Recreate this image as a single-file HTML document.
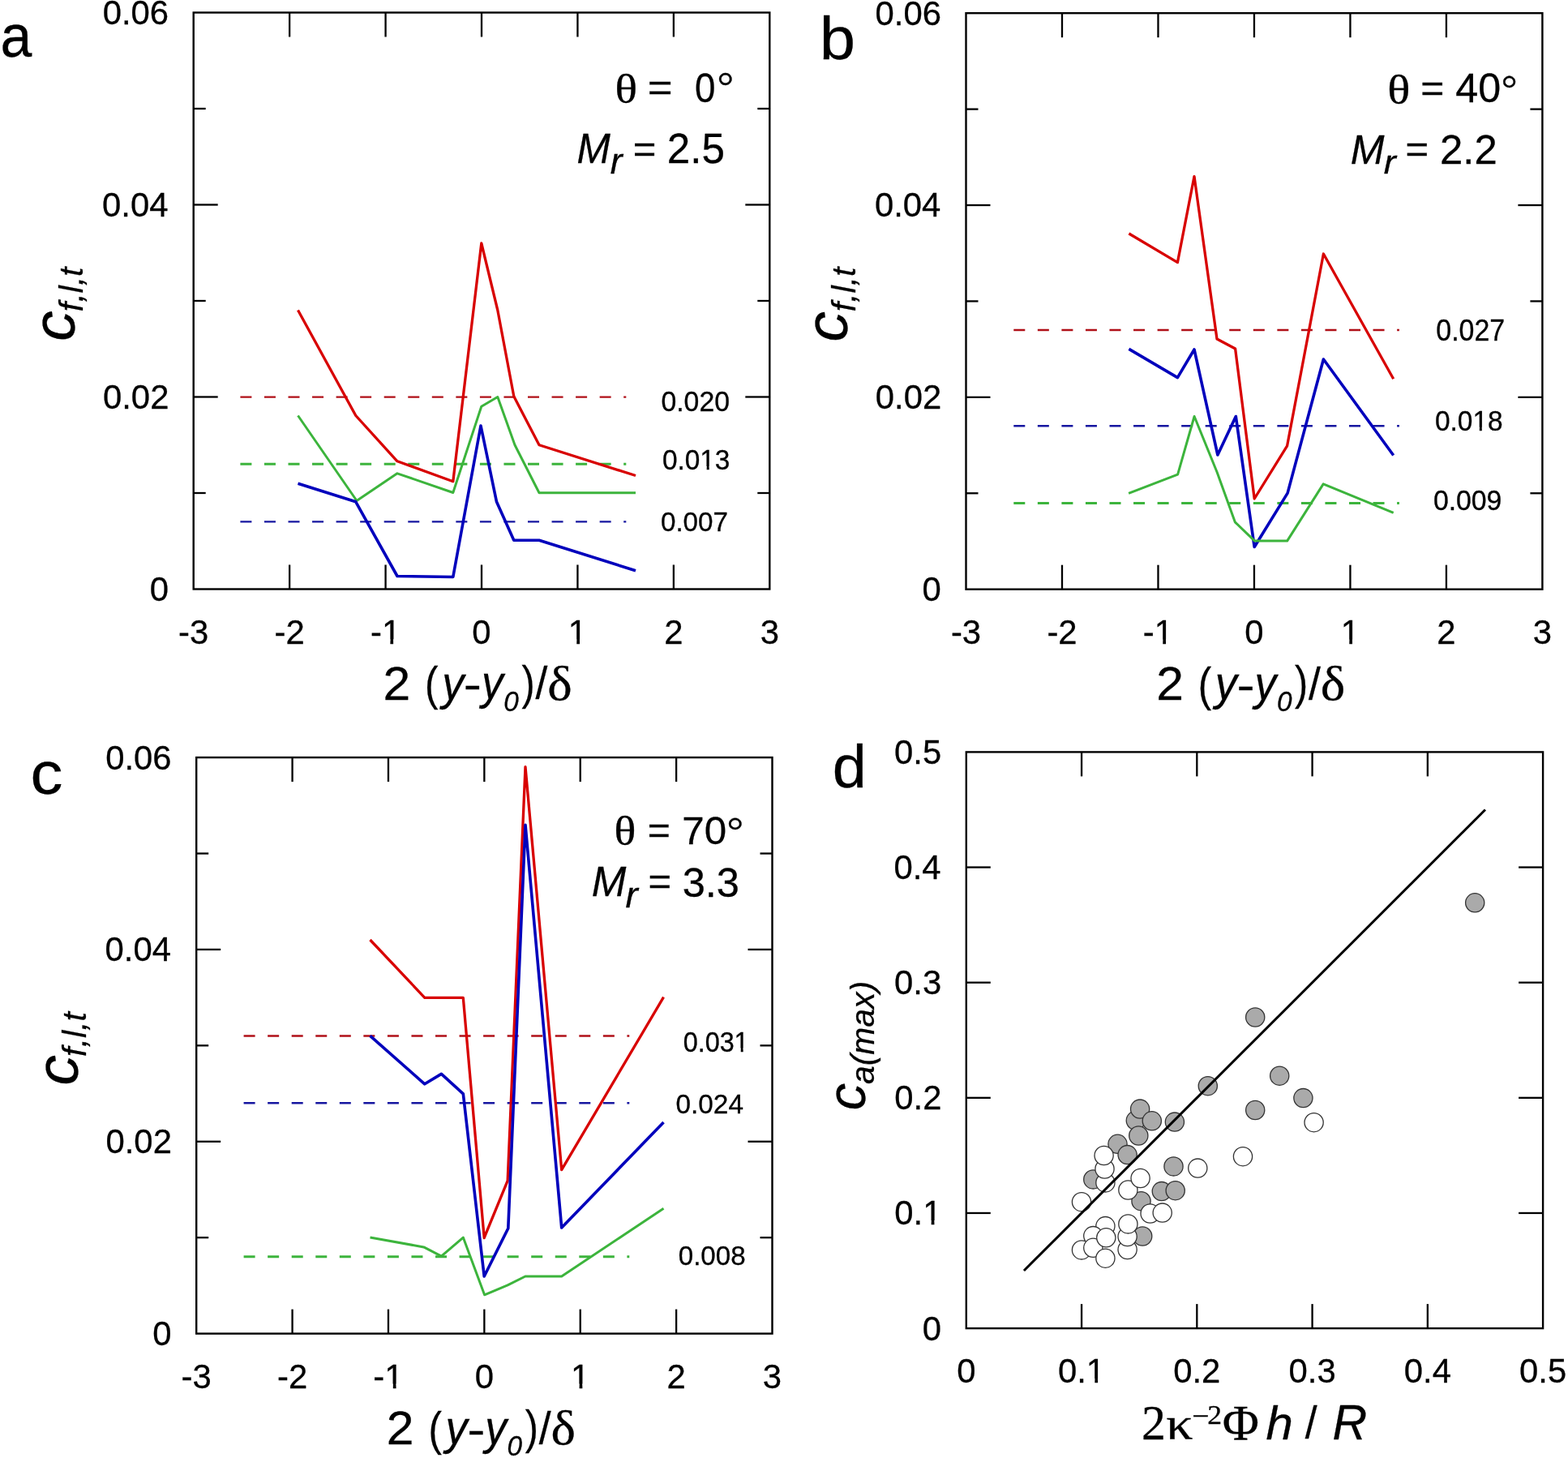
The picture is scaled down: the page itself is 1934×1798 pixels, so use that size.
<!DOCTYPE html>
<html><head><meta charset="utf-8"><title>Figure</title>
<style>
html,body{margin:0;padding:0;background:#fff;}
svg{display:block;}
.sa{font-family:"Liberation Sans",Arial,sans-serif;}
.ser{font-family:"Liberation Serif","Times New Roman",serif;}
text{fill:#000;stroke:#000;stroke-width:0.3px;}
</style></head>
<body>
<svg width="1934" height="1798" viewBox="0 0 1934 1798">
<rect width="1934" height="1798" fill="#fff"/>
<defs><clipPath id="k0"><path clip-rule="evenodd" d="M-3000,-3000H3000V3000H-3000ZM15.13,-5.39H24.55V1.64H15.13ZM28.26,-5.39H37.14V1.64H28.26Z"/></clipPath><clipPath id="k1"><path clip-rule="evenodd" d="M-3000,-3000H3000V3000H-3000ZM1.15,-5.39H10.56V1.64H1.15ZM14.27,-5.39H23.15V1.64H14.27Z"/></clipPath><clipPath id="k2"><path clip-rule="evenodd" d="M-3000,-3000H3000V3000H-3000ZM15.13,-5.39H24.55V1.64H15.13ZM28.26,-5.39H37.14V1.64H28.26Z"/></clipPath><clipPath id="k3"><path clip-rule="evenodd" d="M-3000,-3000H3000V3000H-3000ZM1.15,-5.39H10.56V1.64H1.15ZM14.27,-5.39H23.15V1.64H14.27Z"/></clipPath><clipPath id="k4"><path clip-rule="evenodd" d="M-3000,-3000H3000V3000H-3000ZM15.13,-5.39H24.55V1.64H15.13ZM28.26,-5.39H37.14V1.64H28.26Z"/></clipPath><clipPath id="k5"><path clip-rule="evenodd" d="M-3000,-3000H3000V3000H-3000ZM1.15,-5.39H10.56V1.64H1.15ZM14.27,-5.39H23.15V1.64H14.27Z"/></clipPath><clipPath id="k6"><path clip-rule="evenodd" d="M-3000,-3000H3000V3000H-3000ZM48.05,-4.35H55.65V1.32H48.05ZM58.65,-4.35H65.81V1.32H58.65Z"/></clipPath><clipPath id="k7"><path clip-rule="evenodd" d="M-3000,-3000H3000V3000H-3000ZM46.65,-4.23H54.03V1.29H46.65ZM56.93,-4.23H63.89V1.29H56.93Z"/></clipPath><clipPath id="k8"><path clip-rule="evenodd" d="M-3000,-3000H3000V3000H-3000ZM66.63,-4.34H74.20V1.32H66.63ZM77.18,-4.34H84.32V1.32H77.18Z"/></clipPath><clipPath id="k9"><path clip-rule="evenodd" d="M-3000,-3000H3000V3000H-3000ZM36.18,-5.39H45.59V1.64H36.18ZM49.30,-5.39H58.18V1.64H49.30Z"/></clipPath><clipPath id="k10"><path clip-rule="evenodd" d="M-3000,-3000H3000V3000H-3000ZM36.18,-5.39H45.59V1.64H36.18ZM49.30,-5.39H58.18V1.64H49.30Z"/></clipPath></defs>
<line x1="296.40" y1="489.60" x2="772.30" y2="489.60" stroke="#b01018" stroke-width="2.4" stroke-dasharray="14 15.55"/>
<line x1="296.40" y1="572.30" x2="772.30" y2="572.30" stroke="#3cb43c" stroke-width="3.0" stroke-dasharray="14 15.55"/>
<line x1="296.40" y1="643.40" x2="772.30" y2="643.40" stroke="#1616a0" stroke-width="2.4" stroke-dasharray="14 15.55"/>
<line x1="1250.30" y1="407.00" x2="1725.90" y2="407.00" stroke="#b01018" stroke-width="2.4" stroke-dasharray="14 15.55"/>
<line x1="1250.30" y1="525.30" x2="1725.90" y2="525.30" stroke="#1616a0" stroke-width="2.4" stroke-dasharray="14 15.55"/>
<line x1="1250.30" y1="620.60" x2="1725.90" y2="620.60" stroke="#3cb43c" stroke-width="3.0" stroke-dasharray="14 15.55"/>
<line x1="300.60" y1="1277.50" x2="776.30" y2="1277.50" stroke="#b01018" stroke-width="2.4" stroke-dasharray="14 15.55"/>
<line x1="300.60" y1="1360.20" x2="776.30" y2="1360.20" stroke="#1616a0" stroke-width="2.4" stroke-dasharray="14 15.55"/>
<line x1="300.60" y1="1549.70" x2="776.30" y2="1549.70" stroke="#3cb43c" stroke-width="3.0" stroke-dasharray="14 15.55"/>
<polyline points="367.5,382.5 438.8,512.5 490.0,568.8 558.8,593.8 593.8,300.0 613.8,382.5 633.8,488.8 665.0,548.8 784.0,586.5" fill="none" stroke="#d80000" stroke-width="3.3" stroke-linejoin="round" stroke-linecap="butt"/>
<polyline points="367.5,512.5 440.0,617.5 490.0,583.8 558.8,607.5 593.8,501.2 613.8,489.5 635.0,548.8 665.0,607.8 784.0,607.8" fill="none" stroke="#3cb43c" stroke-width="3.0" stroke-linejoin="round" stroke-linecap="butt"/>
<polyline points="367.5,596.2 438.8,618.8 490.0,710.5 558.8,711.5 593.0,525.0 612.5,618.8 633.8,666.2 665.0,666.2 784.0,703.8" fill="none" stroke="#0000bc" stroke-width="3.6" stroke-linejoin="round" stroke-linecap="butt"/>
<polyline points="1392.4,288.0 1452.4,323.6 1473.0,217.6 1501.0,418.0 1523.6,430.0 1547.2,615.0 1587.6,549.8 1632.4,313.0 1718.7,467.3" fill="none" stroke="#d80000" stroke-width="3.3" stroke-linejoin="round" stroke-linecap="butt"/>
<polyline points="1392.4,430.4 1452.4,465.6 1473.0,431.0 1501.9,561.0 1524.3,513.5 1547.2,674.5 1588.1,608.1 1632.4,443.0 1718.7,561.5" fill="none" stroke="#0000bc" stroke-width="3.6" stroke-linejoin="round" stroke-linecap="butt"/>
<polyline points="1392.1,608.4 1452.6,585.2 1473.1,513.5 1501.0,582.0 1523.3,643.8 1547.5,667.1 1587.6,667.1 1632.2,596.9 1718.7,632.3" fill="none" stroke="#3cb43c" stroke-width="3.0" stroke-linejoin="round" stroke-linecap="butt"/>
<polyline points="456.5,1159.0 523.8,1230.3 571.3,1230.3 597.2,1526.5 626.1,1456.2 648.0,945.6 692.7,1442.7 818.5,1229.7" fill="none" stroke="#d80000" stroke-width="3.3" stroke-linejoin="round" stroke-linecap="butt"/>
<polyline points="456.5,1277.3 523.8,1336.8 544.4,1324.4 571.3,1348.8 597.2,1574.0 626.8,1514.7 648.0,1017.2 692.7,1514.0 818.5,1384.0" fill="none" stroke="#0000bc" stroke-width="3.6" stroke-linejoin="round" stroke-linecap="butt"/>
<polyline points="456.5,1526.1 522.7,1537.9 544.4,1549.2 571.3,1526.1 597.6,1596.8 626.1,1584.8 647.9,1574.0 692.7,1574.0 818.5,1490.3" fill="none" stroke="#3cb43c" stroke-width="3.0" stroke-linejoin="round" stroke-linecap="butt"/>
<rect x="238.70" y="15.50" width="710.60" height="711.00" fill="none" stroke="#000" stroke-width="2.4"/>
<line x1="357.13" y1="726.50" x2="357.13" y2="696.50" stroke="#000" stroke-width="2.3"/>
<line x1="357.13" y1="15.50" x2="357.13" y2="45.50" stroke="#000" stroke-width="2.3"/>
<line x1="475.57" y1="726.50" x2="475.57" y2="696.50" stroke="#000" stroke-width="2.3"/>
<line x1="475.57" y1="15.50" x2="475.57" y2="45.50" stroke="#000" stroke-width="2.3"/>
<line x1="594.00" y1="726.50" x2="594.00" y2="696.50" stroke="#000" stroke-width="2.3"/>
<line x1="594.00" y1="15.50" x2="594.00" y2="45.50" stroke="#000" stroke-width="2.3"/>
<line x1="712.43" y1="726.50" x2="712.43" y2="696.50" stroke="#000" stroke-width="2.3"/>
<line x1="712.43" y1="15.50" x2="712.43" y2="45.50" stroke="#000" stroke-width="2.3"/>
<line x1="830.87" y1="726.50" x2="830.87" y2="696.50" stroke="#000" stroke-width="2.3"/>
<line x1="830.87" y1="15.50" x2="830.87" y2="45.50" stroke="#000" stroke-width="2.3"/>
<line x1="238.70" y1="489.50" x2="268.70" y2="489.50" stroke="#000" stroke-width="2.3"/>
<line x1="949.30" y1="489.50" x2="919.30" y2="489.50" stroke="#000" stroke-width="2.3"/>
<line x1="238.70" y1="252.50" x2="268.70" y2="252.50" stroke="#000" stroke-width="2.3"/>
<line x1="949.30" y1="252.50" x2="919.30" y2="252.50" stroke="#000" stroke-width="2.3"/>
<line x1="238.70" y1="608.00" x2="253.70" y2="608.00" stroke="#000" stroke-width="2.3"/>
<line x1="949.30" y1="608.00" x2="934.30" y2="608.00" stroke="#000" stroke-width="2.3"/>
<line x1="238.70" y1="371.00" x2="253.70" y2="371.00" stroke="#000" stroke-width="2.3"/>
<line x1="949.30" y1="371.00" x2="934.30" y2="371.00" stroke="#000" stroke-width="2.3"/>
<line x1="238.70" y1="134.00" x2="253.70" y2="134.00" stroke="#000" stroke-width="2.3"/>
<line x1="949.30" y1="134.00" x2="934.30" y2="134.00" stroke="#000" stroke-width="2.3"/>
<text class="sa" transform="translate(220.10,793.80) scale(0.996,1.020)" font-size="42.00">-3</text>
<text class="sa" transform="translate(338.54,793.80) scale(0.996,1.020)" font-size="42.00">-2</text>
<text class="sa" transform="translate(456.97,793.80) scale(0.996,1.020)" font-size="42.00" clip-path="url(#k0)">-1</text>
<text class="sa" transform="translate(582.37,793.80) scale(0.996,1.020)" font-size="42.00">0</text>
<text class="sa" transform="translate(700.80,793.80) scale(0.996,1.020)" font-size="42.00" clip-path="url(#k1)">1</text>
<text class="sa" transform="translate(819.23,793.80) scale(0.996,1.020)" font-size="42.00">2</text>
<text class="sa" transform="translate(937.67,793.80) scale(0.996,1.020)" font-size="42.00">3</text>
<text class="sa" transform="translate(184.67,740.95) scale(0.996,1.020)" font-size="42.00">0</text>
<text class="sa" transform="translate(126.99,503.95) scale(0.996,1.020)" font-size="42.00">0.02</text>
<text class="sa" transform="translate(126.11,266.95) scale(0.996,1.020)" font-size="42.00">0.04</text>
<text class="sa" transform="translate(126.72,29.95) scale(0.996,1.020)" font-size="42.00">0.06</text>
<rect x="1191.50" y="16.20" width="710.90" height="710.50" fill="none" stroke="#000" stroke-width="2.4"/>
<line x1="1309.98" y1="726.70" x2="1309.98" y2="696.70" stroke="#000" stroke-width="2.3"/>
<line x1="1309.98" y1="16.20" x2="1309.98" y2="46.20" stroke="#000" stroke-width="2.3"/>
<line x1="1428.47" y1="726.70" x2="1428.47" y2="696.70" stroke="#000" stroke-width="2.3"/>
<line x1="1428.47" y1="16.20" x2="1428.47" y2="46.20" stroke="#000" stroke-width="2.3"/>
<line x1="1546.95" y1="726.70" x2="1546.95" y2="696.70" stroke="#000" stroke-width="2.3"/>
<line x1="1546.95" y1="16.20" x2="1546.95" y2="46.20" stroke="#000" stroke-width="2.3"/>
<line x1="1665.43" y1="726.70" x2="1665.43" y2="696.70" stroke="#000" stroke-width="2.3"/>
<line x1="1665.43" y1="16.20" x2="1665.43" y2="46.20" stroke="#000" stroke-width="2.3"/>
<line x1="1783.92" y1="726.70" x2="1783.92" y2="696.70" stroke="#000" stroke-width="2.3"/>
<line x1="1783.92" y1="16.20" x2="1783.92" y2="46.20" stroke="#000" stroke-width="2.3"/>
<line x1="1191.50" y1="489.87" x2="1221.50" y2="489.87" stroke="#000" stroke-width="2.3"/>
<line x1="1902.40" y1="489.87" x2="1872.40" y2="489.87" stroke="#000" stroke-width="2.3"/>
<line x1="1191.50" y1="253.03" x2="1221.50" y2="253.03" stroke="#000" stroke-width="2.3"/>
<line x1="1902.40" y1="253.03" x2="1872.40" y2="253.03" stroke="#000" stroke-width="2.3"/>
<line x1="1191.50" y1="608.28" x2="1206.50" y2="608.28" stroke="#000" stroke-width="2.3"/>
<line x1="1902.40" y1="608.28" x2="1887.40" y2="608.28" stroke="#000" stroke-width="2.3"/>
<line x1="1191.50" y1="371.45" x2="1206.50" y2="371.45" stroke="#000" stroke-width="2.3"/>
<line x1="1902.40" y1="371.45" x2="1887.40" y2="371.45" stroke="#000" stroke-width="2.3"/>
<line x1="1191.50" y1="134.62" x2="1206.50" y2="134.62" stroke="#000" stroke-width="2.3"/>
<line x1="1902.40" y1="134.62" x2="1887.40" y2="134.62" stroke="#000" stroke-width="2.3"/>
<text class="sa" transform="translate(1172.90,794.00) scale(0.996,1.020)" font-size="42.00">-3</text>
<text class="sa" transform="translate(1291.39,794.00) scale(0.996,1.020)" font-size="42.00">-2</text>
<text class="sa" transform="translate(1409.87,794.00) scale(0.996,1.020)" font-size="42.00" clip-path="url(#k2)">-1</text>
<text class="sa" transform="translate(1535.32,794.00) scale(0.996,1.020)" font-size="42.00">0</text>
<text class="sa" transform="translate(1653.80,794.00) scale(0.996,1.020)" font-size="42.00" clip-path="url(#k3)">1</text>
<text class="sa" transform="translate(1772.28,794.00) scale(0.996,1.020)" font-size="42.00">2</text>
<text class="sa" transform="translate(1890.77,794.00) scale(0.996,1.020)" font-size="42.00">3</text>
<text class="sa" transform="translate(1137.47,741.15) scale(0.996,1.020)" font-size="42.00">0</text>
<text class="sa" transform="translate(1079.79,504.31) scale(0.996,1.020)" font-size="42.00">0.02</text>
<text class="sa" transform="translate(1078.91,267.48) scale(0.996,1.020)" font-size="42.00">0.04</text>
<text class="sa" transform="translate(1079.52,30.65) scale(0.996,1.020)" font-size="42.00">0.06</text>
<rect x="242.20" y="934.10" width="710.30" height="710.50" fill="none" stroke="#000" stroke-width="2.4"/>
<line x1="360.58" y1="1644.60" x2="360.58" y2="1614.60" stroke="#000" stroke-width="2.3"/>
<line x1="360.58" y1="934.10" x2="360.58" y2="964.10" stroke="#000" stroke-width="2.3"/>
<line x1="478.97" y1="1644.60" x2="478.97" y2="1614.60" stroke="#000" stroke-width="2.3"/>
<line x1="478.97" y1="934.10" x2="478.97" y2="964.10" stroke="#000" stroke-width="2.3"/>
<line x1="597.35" y1="1644.60" x2="597.35" y2="1614.60" stroke="#000" stroke-width="2.3"/>
<line x1="597.35" y1="934.10" x2="597.35" y2="964.10" stroke="#000" stroke-width="2.3"/>
<line x1="715.73" y1="1644.60" x2="715.73" y2="1614.60" stroke="#000" stroke-width="2.3"/>
<line x1="715.73" y1="934.10" x2="715.73" y2="964.10" stroke="#000" stroke-width="2.3"/>
<line x1="834.12" y1="1644.60" x2="834.12" y2="1614.60" stroke="#000" stroke-width="2.3"/>
<line x1="834.12" y1="934.10" x2="834.12" y2="964.10" stroke="#000" stroke-width="2.3"/>
<line x1="242.20" y1="1407.77" x2="272.20" y2="1407.77" stroke="#000" stroke-width="2.3"/>
<line x1="952.50" y1="1407.77" x2="922.50" y2="1407.77" stroke="#000" stroke-width="2.3"/>
<line x1="242.20" y1="1170.93" x2="272.20" y2="1170.93" stroke="#000" stroke-width="2.3"/>
<line x1="952.50" y1="1170.93" x2="922.50" y2="1170.93" stroke="#000" stroke-width="2.3"/>
<line x1="242.20" y1="1526.18" x2="257.20" y2="1526.18" stroke="#000" stroke-width="2.3"/>
<line x1="952.50" y1="1526.18" x2="937.50" y2="1526.18" stroke="#000" stroke-width="2.3"/>
<line x1="242.20" y1="1289.35" x2="257.20" y2="1289.35" stroke="#000" stroke-width="2.3"/>
<line x1="952.50" y1="1289.35" x2="937.50" y2="1289.35" stroke="#000" stroke-width="2.3"/>
<line x1="242.20" y1="1052.52" x2="257.20" y2="1052.52" stroke="#000" stroke-width="2.3"/>
<line x1="952.50" y1="1052.52" x2="937.50" y2="1052.52" stroke="#000" stroke-width="2.3"/>
<text class="sa" transform="translate(223.60,1711.90) scale(0.996,1.020)" font-size="42.00">-3</text>
<text class="sa" transform="translate(341.99,1711.90) scale(0.996,1.020)" font-size="42.00">-2</text>
<text class="sa" transform="translate(460.37,1711.90) scale(0.996,1.020)" font-size="42.00" clip-path="url(#k4)">-1</text>
<text class="sa" transform="translate(585.72,1711.90) scale(0.996,1.020)" font-size="42.00">0</text>
<text class="sa" transform="translate(704.10,1711.90) scale(0.996,1.020)" font-size="42.00" clip-path="url(#k5)">1</text>
<text class="sa" transform="translate(822.48,1711.90) scale(0.996,1.020)" font-size="42.00">2</text>
<text class="sa" transform="translate(940.87,1711.90) scale(0.996,1.020)" font-size="42.00">3</text>
<text class="sa" transform="translate(188.17,1659.05) scale(0.996,1.020)" font-size="42.00">0</text>
<text class="sa" transform="translate(130.49,1422.21) scale(0.996,1.020)" font-size="42.00">0.02</text>
<text class="sa" transform="translate(129.61,1185.38) scale(0.996,1.020)" font-size="42.00">0.04</text>
<text class="sa" transform="translate(130.22,948.55) scale(0.996,1.020)" font-size="42.00">0.06</text>
<text class="sa" transform="translate(815.47,506.87) scale(1.000,1.030)" font-size="33.76">0.020</text>
<text class="sa" transform="translate(816.89,579.46) scale(0.985,1.043)" font-size="33.90" clip-path="url(#k6)">0.013</text>
<text class="sa" transform="translate(814.90,654.67) scale(1.006,1.009)" font-size="33.05">0.007</text>
<text class="sa" transform="translate(1771.27,420.06) scale(0.984,1.051)" font-size="34.46">0.027</text>
<text class="sa" transform="translate(1769.89,531.07) scale(1.017,1.040)" font-size="32.91" clip-path="url(#k7)">0.018</text>
<text class="sa" transform="translate(1767.88,629.48) scale(1.026,1.040)" font-size="32.91">0.009</text>
<text class="sa" transform="translate(842.74,1296.89) scale(0.957,1.030)" font-size="33.76" clip-path="url(#k8)">0.031</text>
<text class="sa" transform="translate(833.49,1373.07) scale(1.005,1.022)" font-size="33.19">0.024</text>
<text class="sa" transform="translate(836.71,1560.08) scale(1.025,1.032)" font-size="32.34">0.008</text>
<text class="sa" transform="translate(0.44,70.28) scale(0.941,0.995)" font-size="74.11">a</text>
<text class="sa" transform="translate(1010.87,73.07) scale(1.063,1.000)" font-size="74.89">b</text>
<text class="sa" transform="translate(37.41,979.07) scale(1.085,0.998)" font-size="73.56">c</text>
<text class="sa" transform="translate(1026.83,971.49) scale(1.024,0.993)" font-size="73.80">d</text>
<text class="ser" transform="translate(758.47,126.91) scale(1.147,1.024)" font-size="50.21">θ</text>
<text class="sa" transform="translate(798.81,124.41) scale(1.097,0.970)" font-size="48.10">=</text>
<text class="sa" transform="translate(857.00,125.77) scale(0.908,0.998)" font-size="50.28">0</text>
<text class="ser" transform="translate(884.53,123.39) scale(1.108,1.022)" font-size="46.50">°</text>
<text class="sa" transform="translate(711.47,201.40) scale(0.959,0.995)" font-size="51.75" font-style="italic">M</text>
<text class="sa" transform="translate(752.86,214.01) scale(0.968,0.976)" font-size="46.09" font-style="italic">r</text>
<text class="sa" transform="translate(780.79,199.83) scale(1.097,1.016)" font-size="44.68">=</text>
<text class="sa" transform="translate(822.83,200.91) scale(1.018,1.023)" font-size="50.28">2.5</text>
<text class="ser" transform="translate(1711.20,127.70) scale(1.168,1.024)" font-size="50.21">θ</text>
<text class="sa" transform="translate(1752.36,125.47) scale(1.108,1.037)" font-size="44.99">=</text>
<text class="sa" transform="translate(1795.24,126.31) scale(0.997,0.975)" font-size="50.42">40</text>
<text class="ser" transform="translate(1851.63,124.71) scale(1.034,0.968)" font-size="47.82">°</text>
<text class="sa" transform="translate(1665.65,202.20) scale(0.966,0.975)" font-size="51.89" font-style="italic">M</text>
<text class="sa" transform="translate(1706.64,214.01) scale(1.067,0.974)" font-size="42.37" font-style="italic">r</text>
<text class="sa" transform="translate(1733.61,199.80) scale(1.090,1.037)" font-size="44.99">=</text>
<text class="sa" transform="translate(1776.04,202.20) scale(0.995,0.975)" font-size="51.13">2.2</text>
<text class="ser" transform="translate(757.56,1042.09) scale(1.115,1.024)" font-size="50.21">θ</text>
<text class="sa" transform="translate(798.83,1039.65) scale(1.002,0.970)" font-size="48.10">=</text>
<text class="sa" transform="translate(841.27,1040.92) scale(0.981,0.967)" font-size="50.28">70</text>
<text class="ser" transform="translate(896.53,1040.17) scale(1.093,0.995)" font-size="47.16">°</text>
<text class="sa" transform="translate(729.83,1105.41) scale(0.969,0.998)" font-size="52.76" font-style="italic">M</text>
<text class="sa" transform="translate(771.61,1119.40) scale(1.018,0.984)" font-size="44.97" font-style="italic">r</text>
<text class="sa" transform="translate(799.59,1103.45) scale(1.026,0.951)" font-size="47.79">=</text>
<text class="sa" transform="translate(841.67,1105.96) scale(0.987,0.971)" font-size="51.27">3.3</text>
<text class="ser" transform="translate(1407.97,1774.61) scale(1.001,1.021)" font-size="59.81">2</text>
<text class="ser" transform="translate(1438.15,1773.63) scale(1.144,0.971)" font-size="57.52">κ</text>
<text class="ser" transform="translate(1489.19,1756.03) scale(1.017,0.985)" font-size="35.04">2</text>
<text class="ser" transform="translate(1507.73,1774.62) scale(1.021,0.996)" font-size="60.48">Φ</text>
<text class="sa" transform="translate(1561.60,1774.60) scale(1.037,0.993)" font-size="57.82" font-style="italic">h</text>
<text class="sa" transform="translate(1609.77,1773.09) scale(0.935,0.970)" font-size="57.06">/</text>
<text class="sa" transform="translate(1643.58,1774.60) scale(0.988,1.007)" font-size="59.74" font-style="italic">R</text>
<text class="ser" transform="translate(1470.22,1758.22) scale(1.080,1.000)" font-size="35.00">−</text>
<text class="sa" transform="translate(472.55,862.81) scale(1.034,0.969)" font-size="58.58">2</text>
<text class="sa" transform="translate(524.10,863.15) scale(0.846,0.998)" font-size="58.28">(</text>
<text class="sa" transform="translate(545.26,862.96) scale(0.923,1.007)" font-size="58.57" font-style="italic">y</text>
<text class="sa" transform="translate(571.83,862.40) scale(1.298,1.000)" font-size="51.20">-</text>
<text class="sa" transform="translate(594.02,862.47) scale(0.914,1.000)" font-size="58.44" font-style="italic">y</text>
<text class="sa" transform="translate(621.32,876.65) scale(0.972,1.038)" font-size="34.32" font-style="italic">0</text>
<text class="sa" transform="translate(643.49,861.58) scale(0.843,1.010)" font-size="57.43">)</text>
<text class="sa" transform="translate(660.40,861.46) scale(0.942,0.996)" font-size="56.65">/</text>
<text class="ser" transform="translate(675.16,862.82) scale(1.110,0.999)" font-size="58.29">δ</text>
<text class="sa" transform="translate(1426.15,863.31) scale(1.034,0.969)" font-size="58.58">2</text>
<text class="sa" transform="translate(1477.70,863.65) scale(0.846,0.998)" font-size="58.28">(</text>
<text class="sa" transform="translate(1498.86,863.46) scale(0.923,1.007)" font-size="58.57" font-style="italic">y</text>
<text class="sa" transform="translate(1525.43,862.90) scale(1.298,1.000)" font-size="51.20">-</text>
<text class="sa" transform="translate(1547.62,862.97) scale(0.914,1.000)" font-size="58.44" font-style="italic">y</text>
<text class="sa" transform="translate(1574.92,877.15) scale(0.972,1.038)" font-size="34.32" font-style="italic">0</text>
<text class="sa" transform="translate(1597.09,862.08) scale(0.843,1.010)" font-size="57.43">)</text>
<text class="sa" transform="translate(1614.00,861.96) scale(0.942,0.996)" font-size="56.65">/</text>
<text class="ser" transform="translate(1628.76,863.32) scale(1.110,0.999)" font-size="58.29">δ</text>
<text class="sa" transform="translate(476.85,1781.31) scale(1.034,0.969)" font-size="58.58">2</text>
<text class="sa" transform="translate(528.40,1781.65) scale(0.846,0.998)" font-size="58.28">(</text>
<text class="sa" transform="translate(549.56,1781.46) scale(0.923,1.007)" font-size="58.57" font-style="italic">y</text>
<text class="sa" transform="translate(576.13,1780.90) scale(1.298,1.000)" font-size="51.20">-</text>
<text class="sa" transform="translate(598.32,1780.97) scale(0.914,1.000)" font-size="58.44" font-style="italic">y</text>
<text class="sa" transform="translate(625.62,1795.15) scale(0.972,1.038)" font-size="34.32" font-style="italic">0</text>
<text class="sa" transform="translate(647.79,1780.08) scale(0.843,1.010)" font-size="57.43">)</text>
<text class="sa" transform="translate(664.70,1779.96) scale(0.942,0.996)" font-size="56.65">/</text>
<text class="ser" transform="translate(679.46,1781.32) scale(1.110,0.999)" font-size="58.29">δ</text>
<g transform="translate(92.00,420.75) rotate(-90)">
<text class="sa" x="0" y="0" font-size="75" font-style="italic">c</text>
<text class="sa" x="36.57" y="10.30" font-size="41" font-style="italic">f,l,t</text>
</g>
<g transform="translate(1045.40,421.55) rotate(-90)">
<text class="sa" x="0" y="0" font-size="75" font-style="italic">c</text>
<text class="sa" x="37.27" y="10.00" font-size="41" font-style="italic">f,l,t</text>
</g>
<g transform="translate(96.10,1338.45) rotate(-90)">
<text class="sa" x="0" y="0" font-size="75" font-style="italic">c</text>
<text class="sa" x="35.57" y="10.30" font-size="41" font-style="italic">f,l,t</text>
</g>
<g transform="translate(1067.40,1369.18) rotate(-90)">
<text class="sa" x="0" y="0" font-size="66.5" font-style="italic">c</text>
<text class="sa" x="32.26" y="10.60" font-size="40.8" font-style="italic">a(max)</text>
</g>
<rect x="1191.80" y="927.40" width="711.30" height="710.70" fill="none" stroke="#000" stroke-width="2.4"/>
<line x1="1334.06" y1="1638.10" x2="1334.06" y2="1608.10" stroke="#000" stroke-width="2.3"/>
<line x1="1334.06" y1="927.40" x2="1334.06" y2="957.40" stroke="#000" stroke-width="2.3"/>
<line x1="1476.32" y1="1638.10" x2="1476.32" y2="1608.10" stroke="#000" stroke-width="2.3"/>
<line x1="1476.32" y1="927.40" x2="1476.32" y2="957.40" stroke="#000" stroke-width="2.3"/>
<line x1="1618.58" y1="1638.10" x2="1618.58" y2="1608.10" stroke="#000" stroke-width="2.3"/>
<line x1="1618.58" y1="927.40" x2="1618.58" y2="957.40" stroke="#000" stroke-width="2.3"/>
<line x1="1760.84" y1="1638.10" x2="1760.84" y2="1608.10" stroke="#000" stroke-width="2.3"/>
<line x1="1760.84" y1="927.40" x2="1760.84" y2="957.40" stroke="#000" stroke-width="2.3"/>
<line x1="1191.80" y1="1495.96" x2="1221.80" y2="1495.96" stroke="#000" stroke-width="2.3"/>
<line x1="1903.10" y1="1495.96" x2="1873.10" y2="1495.96" stroke="#000" stroke-width="2.3"/>
<line x1="1191.80" y1="1353.82" x2="1221.80" y2="1353.82" stroke="#000" stroke-width="2.3"/>
<line x1="1903.10" y1="1353.82" x2="1873.10" y2="1353.82" stroke="#000" stroke-width="2.3"/>
<line x1="1191.80" y1="1211.68" x2="1221.80" y2="1211.68" stroke="#000" stroke-width="2.3"/>
<line x1="1903.10" y1="1211.68" x2="1873.10" y2="1211.68" stroke="#000" stroke-width="2.3"/>
<line x1="1191.80" y1="1069.54" x2="1221.80" y2="1069.54" stroke="#000" stroke-width="2.3"/>
<line x1="1903.10" y1="1069.54" x2="1873.10" y2="1069.54" stroke="#000" stroke-width="2.3"/>
<text class="sa" transform="translate(1180.17,1705.40) scale(0.996,1.020)" font-size="42.00">0</text>
<text class="sa" transform="translate(1304.98,1705.40) scale(0.996,1.020)" font-size="42.00" clip-path="url(#k9)">0.1</text>
<text class="sa" transform="translate(1447.24,1705.40) scale(0.996,1.020)" font-size="42.00">0.2</text>
<text class="sa" transform="translate(1589.50,1705.40) scale(0.996,1.020)" font-size="42.00">0.3</text>
<text class="sa" transform="translate(1731.76,1705.40) scale(0.996,1.020)" font-size="42.00">0.4</text>
<text class="sa" transform="translate(1874.02,1705.40) scale(0.996,1.020)" font-size="42.00">0.5</text>
<text class="sa" transform="translate(1137.77,1652.55) scale(0.996,1.020)" font-size="42.00">0</text>
<text class="sa" transform="translate(1103.29,1510.41) scale(0.996,1.020)" font-size="42.00" clip-path="url(#k10)">0.1</text>
<text class="sa" transform="translate(1103.35,1368.27) scale(0.996,1.020)" font-size="42.00">0.2</text>
<text class="sa" transform="translate(1103.09,1226.13) scale(0.996,1.020)" font-size="42.00">0.3</text>
<text class="sa" transform="translate(1102.47,1083.99) scale(0.996,1.020)" font-size="42.00">0.4</text>
<text class="sa" transform="translate(1103.00,941.85) scale(0.996,1.020)" font-size="42.00">0.5</text>
<circle cx="1400.8" cy="1381.8" r="11.6" fill="#aaaaaa" stroke="#333" stroke-width="1.3"/>
<circle cx="1406.1" cy="1367.6" r="11.6" fill="#aaaaaa" stroke="#333" stroke-width="1.3"/>
<circle cx="1404.3" cy="1400.5" r="11.6" fill="#aaaaaa" stroke="#333" stroke-width="1.3"/>
<circle cx="1420.8" cy="1382.3" r="11.6" fill="#aaaaaa" stroke="#333" stroke-width="1.3"/>
<circle cx="1448.9" cy="1383.6" r="11.6" fill="#aaaaaa" stroke="#333" stroke-width="1.3"/>
<circle cx="1378.5" cy="1410.8" r="11.6" fill="#aaaaaa" stroke="#333" stroke-width="1.3"/>
<circle cx="1390.6" cy="1424.1" r="11.6" fill="#aaaaaa" stroke="#333" stroke-width="1.3"/>
<circle cx="1348.3" cy="1454.4" r="11.6" fill="#aaaaaa" stroke="#333" stroke-width="1.3"/>
<circle cx="1447.5" cy="1438.4" r="11.6" fill="#aaaaaa" stroke="#333" stroke-width="1.3"/>
<circle cx="1432.8" cy="1469.1" r="11.6" fill="#aaaaaa" stroke="#333" stroke-width="1.3"/>
<circle cx="1449.7" cy="1468.2" r="11.6" fill="#aaaaaa" stroke="#333" stroke-width="1.3"/>
<circle cx="1407.5" cy="1481.2" r="11.6" fill="#aaaaaa" stroke="#333" stroke-width="1.3"/>
<circle cx="1409.2" cy="1524.5" r="11.6" fill="#aaaaaa" stroke="#333" stroke-width="1.3"/>
<circle cx="1489.8" cy="1339.2" r="11.6" fill="#aaaaaa" stroke="#333" stroke-width="1.3"/>
<circle cx="1548.2" cy="1254.5" r="11.6" fill="#aaaaaa" stroke="#333" stroke-width="1.3"/>
<circle cx="1578.2" cy="1326.7" r="11.6" fill="#aaaaaa" stroke="#333" stroke-width="1.3"/>
<circle cx="1548.2" cy="1369.0" r="11.6" fill="#aaaaaa" stroke="#333" stroke-width="1.3"/>
<circle cx="1607.4" cy="1354.1" r="11.6" fill="#aaaaaa" stroke="#333" stroke-width="1.3"/>
<circle cx="1819.2" cy="1113.3" r="11.6" fill="#aaaaaa" stroke="#333" stroke-width="1.3"/>
<circle cx="1363.4" cy="1458.4" r="11.6" fill="#ffffff" stroke="#333" stroke-width="1.3"/>
<circle cx="1362.5" cy="1441.5" r="11.6" fill="#ffffff" stroke="#333" stroke-width="1.3"/>
<circle cx="1361.6" cy="1425.0" r="11.6" fill="#ffffff" stroke="#333" stroke-width="1.3"/>
<circle cx="1390.6" cy="1541.0" r="11.6" fill="#ffffff" stroke="#333" stroke-width="1.3"/>
<circle cx="1390.6" cy="1525.0" r="11.6" fill="#ffffff" stroke="#333" stroke-width="1.3"/>
<circle cx="1391.4" cy="1509.4" r="11.6" fill="#ffffff" stroke="#333" stroke-width="1.3"/>
<circle cx="1418.6" cy="1496.5" r="11.6" fill="#ffffff" stroke="#333" stroke-width="1.3"/>
<circle cx="1433.7" cy="1495.6" r="11.6" fill="#ffffff" stroke="#333" stroke-width="1.3"/>
<circle cx="1363.4" cy="1512.1" r="11.6" fill="#ffffff" stroke="#333" stroke-width="1.3"/>
<circle cx="1348.3" cy="1524.1" r="11.6" fill="#ffffff" stroke="#333" stroke-width="1.3"/>
<circle cx="1334.0" cy="1541.4" r="11.6" fill="#ffffff" stroke="#333" stroke-width="1.3"/>
<circle cx="1348.3" cy="1538.8" r="11.6" fill="#ffffff" stroke="#333" stroke-width="1.3"/>
<circle cx="1364.3" cy="1526.3" r="11.6" fill="#ffffff" stroke="#333" stroke-width="1.3"/>
<circle cx="1363.4" cy="1551.7" r="11.6" fill="#ffffff" stroke="#333" stroke-width="1.3"/>
<circle cx="1334.0" cy="1482.2" r="11.6" fill="#ffffff" stroke="#333" stroke-width="1.3"/>
<circle cx="1391.4" cy="1467.5" r="11.6" fill="#ffffff" stroke="#333" stroke-width="1.3"/>
<circle cx="1406.6" cy="1453.0" r="11.6" fill="#ffffff" stroke="#333" stroke-width="1.3"/>
<circle cx="1477.3" cy="1440.6" r="11.6" fill="#ffffff" stroke="#333" stroke-width="1.3"/>
<circle cx="1533.0" cy="1426.2" r="11.6" fill="#ffffff" stroke="#333" stroke-width="1.3"/>
<circle cx="1620.6" cy="1384.2" r="11.6" fill="#ffffff" stroke="#333" stroke-width="1.3"/>
<line x1="1262.93" y1="1567.03" x2="1831.97" y2="998.47" stroke="#000" stroke-width="3.0"/>
</svg>
</body></html>
